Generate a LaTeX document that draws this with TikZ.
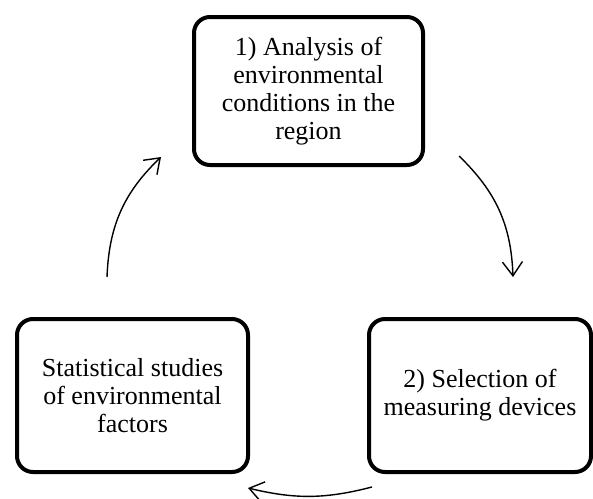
\documentclass[tikz,border=0pt]{standalone}
\usepackage{fontspec}
\setmainfont{Liberation Serif}
\usetikzlibrary{arrows.meta}

\begin{document}
\begin{tikzpicture}[
  x=1pt,
  y=-1pt,
  stage/.style={
    draw,
    line width=4pt,
    rounded corners=16pt,
    inner sep=0pt,
    align=center,
    font=\fontsize{26}{28}\selectfont
  },
  cycle/.style={
    -{Straight Barb[length=14pt,width=20pt]},
    line width=1.4pt,
    bend left=22
  }
]
  \useasboundingbox (0,0) rectangle (593,498);
  \node[stage,minimum width=229pt,minimum height=148pt] (analysis) at (308.5,91)
    {1) Analysis of\\environmental\\conditions in the\\region};
  \node[stage,minimum width=222pt,minimum height=153pt] (selection) at (480,395.5)
    {2) Selection of\\measuring devices};
  \node[stage,minimum width=231pt,minimum height=153pt] (statistics) at (132.5,395.5)
    {Statistical studies\\of environmental\\factors};
  \coordinate (a1) at (459,156);
  \coordinate (a2) at (513,277);
  \coordinate (b1) at (372,487);
  \coordinate (b2) at (248,488);
  \coordinate (c1) at (107,277);
  \coordinate (c2) at (161,157);
  \draw[cycle] (a1) to (a2);
  \draw[cycle,bend left=14] (b1) to (b2);
  \draw[cycle] (c1) to (c2);
\end{tikzpicture}
\end{document}
